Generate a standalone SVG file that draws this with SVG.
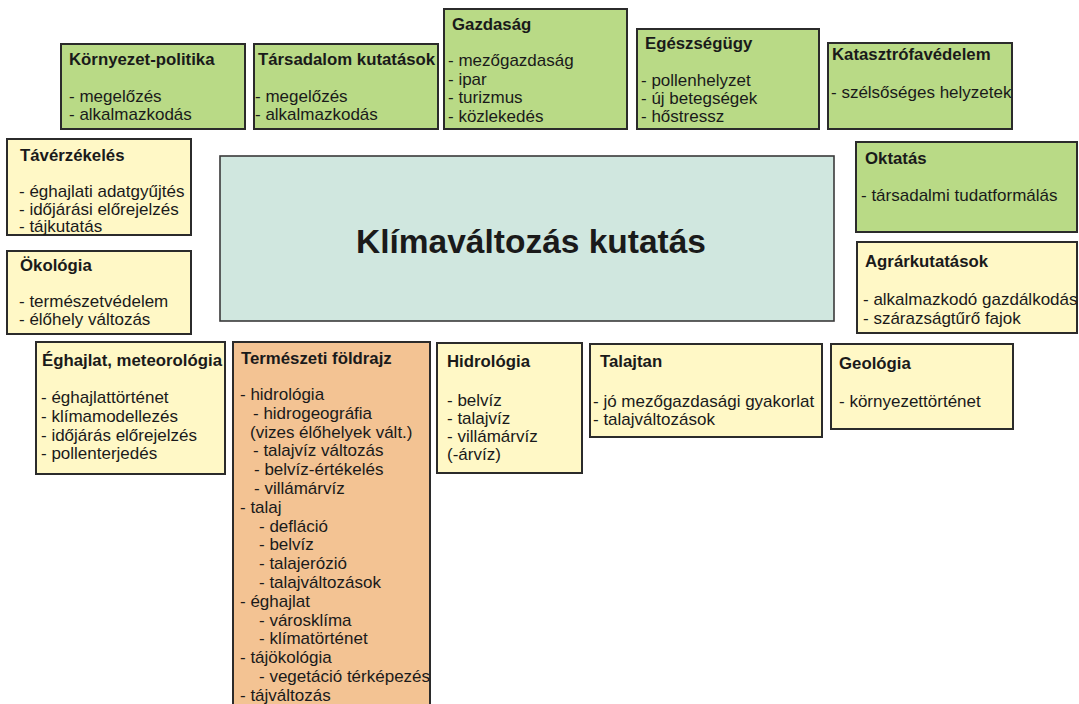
<svg xmlns="http://www.w3.org/2000/svg" width="1079" height="704" viewBox="0 0 1079 704">
<style>
.box{stroke:#2b2b2b;stroke-width:2}
.g{fill:#b9da86}
.y{fill:#fff8c6}
.o{fill:#f3c393}
.c{fill:#d0e7df;stroke:#3a3a3a;stroke-width:1.6}
text{font-family:"Liberation Sans",Arial,Helvetica,sans-serif;fill:#1a1a1a}
.t{font-size:16.8px;font-weight:bold}
.i{font-size:17px}
.big{font-size:33.5px;font-weight:bold;text-anchor:middle}
</style>
<rect width="1079" height="704" fill="#ffffff"/>
<g id="connectors"/>
<g id="kornyezet-politika">
<rect class="box g" x="61" y="44" width="184" height="85"/>
<text class="t" x="69" y="65">Környezet-politika</text>
<text class="i" x="69" y="101.5">- megelőzés</text>
<text class="i" x="69" y="120">- alkalmazkodás</text>
</g>
<g id="tarsadalom-kutatasok">
<rect class="box g" x="254" y="44" width="184" height="85"/>
<text class="t" x="258" y="65">Társadalom kutatások</text>
<text class="i" x="255" y="101.5">- megelőzés</text>
<text class="i" x="255" y="120">- alkalmazkodás</text>
</g>
<g id="gazdasag">
<rect class="box g" x="444" y="9" width="183" height="120"/>
<text class="t" x="452" y="30">Gazdaság</text>
<text class="i" x="448" y="66">- mezőgazdaság</text>
<text class="i" x="448" y="84.5">- ipar</text>
<text class="i" x="448" y="103">- turizmus</text>
<text class="i" x="448" y="121.5">- közlekedés</text>
</g>
<g id="egeszsegugy">
<rect class="box g" x="637" y="29" width="182" height="100"/>
<text class="t" x="645" y="49">Egészségügy</text>
<text class="i" x="641" y="85.5">- pollenhelyzet</text>
<text class="i" x="641" y="104">- új betegségek</text>
<text class="i" x="641" y="122">- hőstressz</text>
</g>
<g id="katasztrofavedelem">
<rect class="box g" x="828" y="43" width="184" height="86"/>
<text class="t" x="832" y="60">Katasztrófavédelem</text>
<text class="i" x="831" y="97.5">- szélsőséges helyzetek</text>
</g>
<g id="taverzekeles">
<rect class="box y" x="7" y="139" width="184" height="96"/>
<text class="t" x="20" y="161">Távérzékelés</text>
<text class="i" x="19" y="196.5">- éghajlati adatgyűjtés</text>
<text class="i" x="19" y="214.5">- időjárási előrejelzés</text>
<text class="i" x="19" y="231.5">- tájkutatás</text>
</g>
<g id="okologia">
<rect class="box y" x="7" y="251" width="184" height="83"/>
<text class="t" x="20" y="271">Ökológia</text>
<text class="i" x="19" y="307">- természetvédelem</text>
<text class="i" x="19" y="325">- élőhely változás</text>
</g>
<g id="klimavaltozas-kutatas">
<rect class="c" x="220" y="156" width="614" height="165"/>
<text class="big" x="531" y="253">Klímaváltozás kutatás</text>
</g>
<g id="oktatas">
<rect class="box g" x="856" y="142" width="221" height="90"/>
<text class="t" x="865" y="164">Oktatás</text>
<text class="i" x="861" y="201">- társadalmi tudatformálás</text>
</g>
<g id="agrarkutatasok">
<rect class="box y" x="857" y="242" width="220" height="91"/>
<text class="t" x="865" y="267">Agrárkutatások</text>
<text class="i" x="863" y="305">- alkalmazkodó gazdálkodás</text>
<text class="i" x="863" y="324">- szárazságtűrő fajok</text>
</g>
<g id="eghajlat-meteorologia">
<rect class="box y" x="36" y="342" width="189" height="132"/>
<text class="t" x="42" y="366">Éghajlat, meteorológia</text>
<text class="i" x="41" y="403">- éghajlattörténet</text>
<text class="i" x="41" y="421.5">- klímamodellezés</text>
<text class="i" x="41" y="440.5">- időjárás előrejelzés</text>
<text class="i" x="41" y="459">- pollenterjedés</text>
</g>
<g id="termeszeti-foldrajz">
<rect class="box o" x="233" y="342" width="197" height="372"/>
<text class="t" x="241" y="364">Természeti földrajz</text>
<text class="i" x="240" y="400">- hidrológia</text>
<text class="i" x="253" y="418.8">- hidrogeográfia</text>
<text class="i" x="250" y="437.6">(vizes élőhelyek vált.)</text>
<text class="i" x="253" y="456.4">- talajvíz változás</text>
<text class="i" x="254" y="475.2">- belvíz-értékelés</text>
<text class="i" x="254" y="494">- villámárvíz</text>
<text class="i" x="240" y="512.8">- talaj</text>
<text class="i" x="259" y="531.6">- defláció</text>
<text class="i" x="259" y="550.4">- belvíz</text>
<text class="i" x="259" y="569.2">- talajerózió</text>
<text class="i" x="259" y="588">- talajváltozások</text>
<text class="i" x="240" y="606.8">- éghajlat</text>
<text class="i" x="259" y="625.6">- városklíma</text>
<text class="i" x="259" y="644.4">- klímatörténet</text>
<text class="i" x="240" y="663.2">- tájökológia</text>
<text class="i" x="259" y="682">- vegetáció térképezés</text>
<text class="i" x="240" y="700.8">- tájváltozás</text>
</g>
<g id="hidrologia">
<rect class="box y" x="437" y="343" width="145" height="130"/>
<text class="t" x="447" y="367">Hidrológia</text>
<text class="i" x="447" y="406">- belvíz</text>
<text class="i" x="447" y="424">- talajvíz</text>
<text class="i" x="447" y="442">- villámárvíz</text>
<text class="i" x="447" y="460">(-árvíz)</text>
</g>
<g id="talajtan">
<rect class="box y" x="590" y="344" width="232" height="93"/>
<text class="t" x="600" y="367">Talajtan</text>
<text class="i" x="593" y="407">- jó mezőgazdasági gyakorlat</text>
<text class="i" x="593" y="425">- talajváltozások</text>
</g>
<g id="geologia">
<rect class="box y" x="831" y="344" width="182" height="85"/>
<text class="t" x="839" y="369">Geológia</text>
<text class="i" x="839" y="407">- környezettörténet</text>
</g>
</svg>
